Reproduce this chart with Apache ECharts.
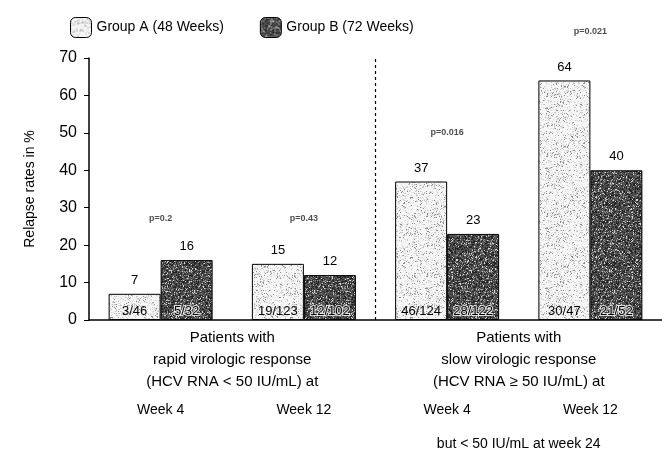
<!DOCTYPE html>
<html>
<head>
<meta charset="utf-8">
<script src="https://cdn.jsdelivr.net/npm/echarts@6/dist/echarts.min.js"></script>
<style>
  html, body { margin: 0; padding: 0; background: #fff; }
  #chart { width: 662px; height: 451px; }
</style>
</head>
<body>
<div id="chart"></div>
<script>
// bars: two sub-groups (rapid / slow responders), each at week 4 and week 12
const categories = ['Week 4', 'Week 12', 'Week 4', 'Week 12'];
const groupA = [7, 15, 37, 64];
const groupB = [16, 12, 23, 40];
const fracA = ['3/46', '19/123', '46/124', '30/47'];
const fracB = ['5/32', '12/102', '28/122', '21/52'];
const pValues = ['p=0.2', 'p=0.43', 'p=0.016', 'p=0.021'];
const pLevels = [27, 27, 50, 77];
const groupLabels = [
  'Patients with\nrapid virologic response\n(HCV RNA < 50 IU/mL) at',
  'Patients with\nslow virologic response\n(HCV RNA \u2265 50 IU/mL) at'
];
const footLabels = ['', 'but < 50 IU/mL at week 24'];
const yTicks = { min: 0, max: 70, interval: 10 };
// dashed divider sits on the boundary between the two sub-groups (0..4 slot scale)
const dividerAt = 2;

const FONT = '"Liberation Sans", Arial, sans-serif';

// scanned-looking stipple fill, deterministic hash
function hash(x, y, s) {
  let n = Math.imul(x, 374761393) + Math.imul(y, 668265263) + Math.imul(s, 2246822519);
  n = Math.imul(n ^ (n >>> 13), 1274126177);
  return ((n ^ (n >>> 16)) >>> 0) / 4294967296;
}
function stipple(base, shades, seed) {
  const c = document.createElement('canvas');
  c.width = c.height = 60;
  const ctx = c.getContext('2d');
  ctx.fillStyle = base;
  ctx.fillRect(0, 0, 60, 60);
  for (let y = 0; y < 60; y++) {
    for (let x = 0; x < 60; x++) {
      const r = hash(x, y, seed);
      for (const [lim, col] of shades) {
        if (r < lim) { ctx.fillStyle = col; ctx.fillRect(x, y, 1, 1); break; }
      }
    }
  }
  return { image: c, repeat: 'repeat' };
}
const fillA = stipple('#f6f6f6', [[0.06, '#8a8a8a'], [0.16, '#c4c4c4'], [0.26, '#dedede']], 3);
const fillB = stipple('#555', [[0.26, '#222'], [0.38, '#3a3a3a'], [0.48, '#999'], [0.55, '#d8d8d8']], 7);

const chart = echarts.init(document.getElementById('chart'));

chart.setOption({
  animation: false,
  backgroundColor: '#fff',
  textStyle: { fontFamily: FONT, color: '#000' },
  legend: {
    data: ['Group A (48 Weeks)', 'Group B (72 Weeks)'],
    left: 65, top: 12,
    itemWidth: 21, itemHeight: 20, itemGap: 36,
    itemStyle: { borderColor: '#000', borderWidth: 1 },
    textStyle: { fontSize: 14, fontFamily: FONT, color: '#000' }
  },
  grid: { left: 89, top: 58, width: 576, height: 262 },
  xAxis: [
    {
      type: 'category', data: categories,
      axisLine: { lineStyle: { color: '#000', width: 1.5 } },
      axisTick: { length: 4, lineStyle: { color: '#000' } },
      axisLabel: { margin: 83, fontSize: 14, color: '#000' }
    },
    { type: 'category', data: categories, show: false },
    {
      type: 'category', data: groupLabels, position: 'bottom',
      axisLine: { show: false }, axisTick: { show: false },
      axisLabel: { margin: 7, fontSize: 15, lineHeight: 22, color: '#000' }
    },
    {
      type: 'category', data: footLabels, position: 'bottom',
      axisLine: { show: false }, axisTick: { show: false },
      axisLabel: { margin: 117, fontSize: 14, color: '#000' }
    },
    { type: 'value', min: 0, max: 4, show: false }
  ],
  yAxis: {
    type: 'value', min: yTicks.min, max: yTicks.max, interval: yTicks.interval,
    name: 'Relapse rates in %', nameLocation: 'middle', nameGap: 52,
    nameTextStyle: { fontSize: 14, color: '#000' },
    axisLine: { show: true, lineStyle: { color: '#000', width: 1.5 } },
    axisTick: { show: true, length: 5, lineStyle: { color: '#000' } },
    axisLabel: { fontSize: 16, margin: 12, color: '#000' },
    splitLine: { show: false }
  },
  series: [
    {
      name: 'Group A (48 Weeks)', type: 'bar', data: groupA,
      barWidth: 52, barGap: 0,
      itemStyle: { color: fillA, borderColor: '#000', borderWidth: 1 },
      label: { show: true, position: 'top', distance: 7, fontSize: 13, color: '#000' }
    },
    {
      name: 'Group B (72 Weeks)', type: 'bar', data: groupB,
      barWidth: 52, barGap: 0,
      itemStyle: { color: fillB, borderColor: '#000', borderWidth: 1 },
      label: { show: true, position: 'top', distance: 7, fontSize: 13, color: '#000' }
    },
    {
      name: 'fracA', type: 'bar', xAxisIndex: 1, data: groupA,
      barWidth: 52, barGap: 0, silent: true,
      itemStyle: { color: 'rgba(0,0,0,0)' },
      label: {
        show: true, position: 'insideBottom', distance: 2, fontSize: 13, color: '#000',
        formatter: (p) => fracA[p.dataIndex]
      }
    },
    {
      name: 'fracB', type: 'bar', xAxisIndex: 1, data: groupB,
      barWidth: 52, barGap: 0, silent: true,
      itemStyle: { color: 'rgba(0,0,0,0)' },
      label: {
        show: true, position: 'insideBottom', distance: 2, fontSize: 13, color: '#000',
        textBorderColor: 'rgba(255,255,255,0.8)', textBorderWidth: 2,
        formatter: (p) => fracB[p.dataIndex]
      }
    },
    {
      name: 'pvalues', type: 'scatter', symbolSize: 0, clip: false, silent: true,
      data: pLevels.map((v, i) => [i, v]),
      label: {
        show: true, position: 'inside', fontSize: 9, fontWeight: 'bold', color: '#222',
        formatter: (p) => pValues[p.dataIndex]
      }
    },
    {
      name: 'divider', type: 'scatter', xAxisIndex: 4, data: [], silent: true,
      markLine: {
        symbol: 'none', silent: true, label: { show: false },
        lineStyle: { color: '#000', type: [3, 3], width: 1.2 },
        data: [{ xAxis: dividerAt }]
      }
    }
  ]
});
</script>
</body>
</html>
